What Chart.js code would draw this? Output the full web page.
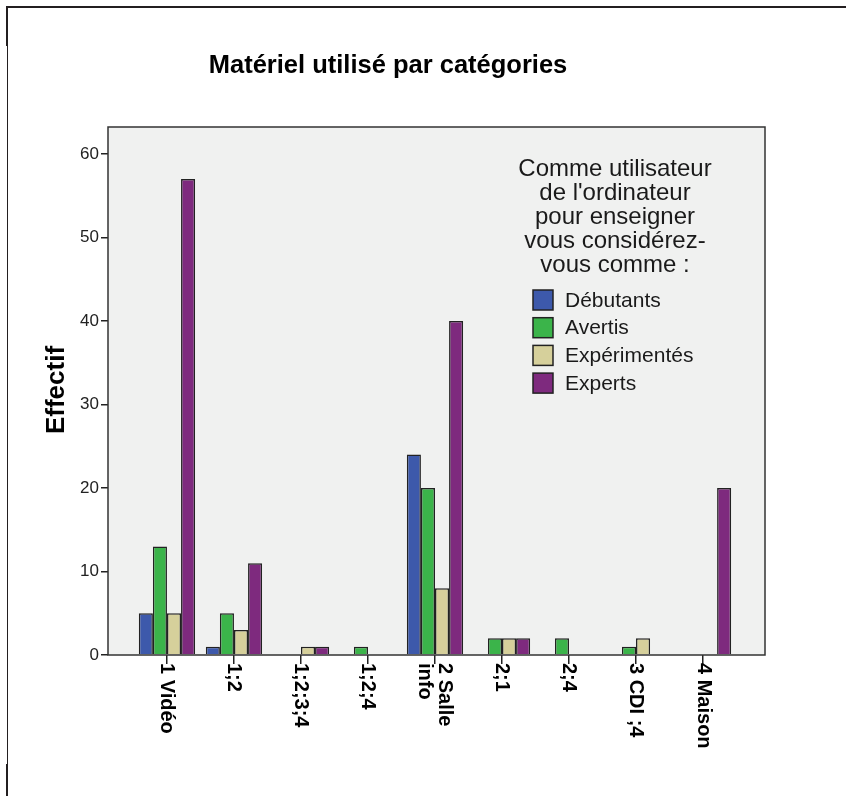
<!DOCTYPE html>
<html>
<head>
<meta charset="utf-8">
<script src="https://cdn.jsdelivr.net/npm/chart.js@4.4.1/dist/chart.umd.min.js"></script>
<style>
  html, body { margin: 0; padding: 0; background: #fff; }
  canvas { display: block; }
</style>
</head>
<body>
<canvas id="chart" width="846" height="796"></canvas>
<script>
// categories on the x axis (a label can hold several lines)
const categories = [['1 Vidéo'], ['1;2'], ['1;2;3;4'], ['1;2;4'], ['2 Salle', 'info'], ['2;1'], ['2;4'], ['3 CDI ;4'], ['4 Maison']];

const debutants    = [5, 1, 0, 0, 24, 0, 0, 0, 0];
const avertis      = [13, 5, 0, 1, 20, 2, 2, 1, 0];
const experimentes = [5, 3, 1, 0, 8, 2, 0, 2, 0];
const experts      = [57, 11, 1, 0, 40, 2, 0, 0, 20];

const seriesNames = ['Débutants', 'Avertis', 'Expérimentés', 'Experts'];
const seriesColors = ['#3d59ab', '#3bb44a', '#d6d09b', '#7e2a7e'];

const yTicks = [0, 10, 20, 30, 40, 50, 60];

const legendTitle = ['Comme utilisateur', "de l'ordinateur", 'pour enseigner', 'vous considérez-', 'vous comme :'];
const chartTitle = 'Matériel utilisé par catégories';
const yTitle = 'Effectif';

const FONT = '"Liberation Sans", Arial, sans-serif';

function toPoints(values) {
    return values.map((v, i) => ({ x: i + 1, y: v === 0 ? null : v }));
}

const datasets = [debutants, avertis, experimentes, experts].map((vals, i) => ({
    label: seriesNames[i],
    data: toPoints(vals),
    backgroundColor: seriesColors[i],
    borderColor: '#222',
    borderWidth: 1.5,
    categoryPercentage: 0.84,
    barPercentage: 1.0
}));

const decorPlugin = {
    id: 'decor',
    beforeDraw(chart) {
        const ctx = chart.ctx;
        const a = chart.chartArea;
        ctx.save();
        ctx.fillStyle = '#fff';
        ctx.fillRect(0, 0, chart.width, chart.height);
        ctx.fillStyle = '#f0f1f0';
        ctx.fillRect(a.left, a.top, a.right - a.left, a.bottom - a.top);

        // outer frame
        ctx.fillStyle = '#231f20';
        ctx.fillRect(6, 6, chart.width - 6, 2);
        ctx.fillRect(7, 6, 1, chart.height - 6);
        ctx.fillRect(6, 6, 2, 40);
        ctx.fillRect(6, 764, 2, chart.height - 764);
        ctx.restore();
    },
    afterDraw(chart) {
        const ctx = chart.ctx;
        const a = chart.chartArea;
        const xs = chart.scales.x;
        ctx.save();

        // plot frame
        ctx.strokeStyle = '#333';
        ctx.lineWidth = 1.5;
        ctx.strokeRect(a.left, a.top, a.right - a.left, a.bottom - a.top);

        // title
        ctx.fillStyle = '#000';
        ctx.font = 'bold 25.5px ' + FONT;
        ctx.textAlign = 'center';
        ctx.textBaseline = 'alphabetic';
        ctx.fillText(chartTitle, 388, 73);

        // y title
        ctx.save();
        ctx.translate(57, 390);
        ctx.rotate(-Math.PI / 2);
        ctx.font = 'bold 26px ' + FONT;
        ctx.textBaseline = 'middle';
        ctx.fillText(yTitle, 0, 0);
        ctx.restore();

        // x labels, rotated clockwise
        ctx.font = 'bold 20px ' + FONT;
        ctx.textAlign = 'left';
        ctx.textBaseline = 'middle';
        categories.forEach((lines, i) => {
            const px = xs.getPixelForValue(i + 1);
            const lh = 20;
            ctx.save();
            ctx.translate(px + (lines.length - 1) * lh / 2, a.bottom + 8);
            ctx.rotate(Math.PI / 2);
            lines.forEach((t, j) => ctx.fillText(t, 0, j * lh));
            ctx.restore();
        });

        // legend
        ctx.fillStyle = '#1a1a1a';
        ctx.font = '24px ' + FONT;
        ctx.textAlign = 'center';
        legendTitle.forEach((t, i) => ctx.fillText(t, 615, 169 + i * 24));
        ctx.textAlign = 'left';
        ctx.font = '21px ' + FONT;
        chart.data.datasets.forEach((ds, i) => {
            const cy = 300 + i * 27.7;
            ctx.fillStyle = ds.backgroundColor;
            ctx.fillRect(533, cy - 10, 20, 20);
            ctx.strokeStyle = '#222';
            ctx.lineWidth = 1.5;
            ctx.strokeRect(533, cy - 10, 20, 20);
            ctx.fillStyle = '#1a1a1a';
            ctx.fillText(ds.label, 565, cy + 1);
        });
        ctx.restore();
    }
};

new Chart(document.getElementById('chart'), {
    type: 'bar',
    data: { datasets: datasets },
    options: {
        responsive: false,
        animation: false,
        devicePixelRatio: 1,
        layout: { padding: { top: 127, right: 81, left: 0, bottom: 131 } },
        plugins: {
            legend: { display: false },
            title: { display: false },
            tooltip: { enabled: false }
        },
        scales: {
            x: {
                type: 'linear',
                offset: false,
                min: 0.12,
                max: 9.925,
                afterFit: s => { s.height = 10; },
                afterBuildTicks: s => {
                    s.ticks = categories.map((c, i) => ({ value: i + 1 }));
                },
                ticks: { display: true, callback: () => '', autoSkip: false, maxRotation: 0 },
                grid: { offset: false, drawOnChartArea: false, drawTicks: true, tickLength: 9, color: '#222', lineWidth: 1.5 },
                border: { display: false }
            },
            y: {
                min: 0,
                max: 63.24,
                afterFit: s => { s.width = 108; },
                afterBuildTicks: s => {
                    s.ticks = yTicks.map(v => ({ value: v }));
                },
                ticks: {
                    color: '#222',
                    padding: 2,
                    font: { family: FONT, size: 17 }
                },
                grid: { drawOnChartArea: false, drawTicks: true, tickLength: 7, color: '#222', lineWidth: 1.5 },
                border: { display: false }
            }
        }
    },
    plugins: [decorPlugin]
});
</script>
</body>
</html>
